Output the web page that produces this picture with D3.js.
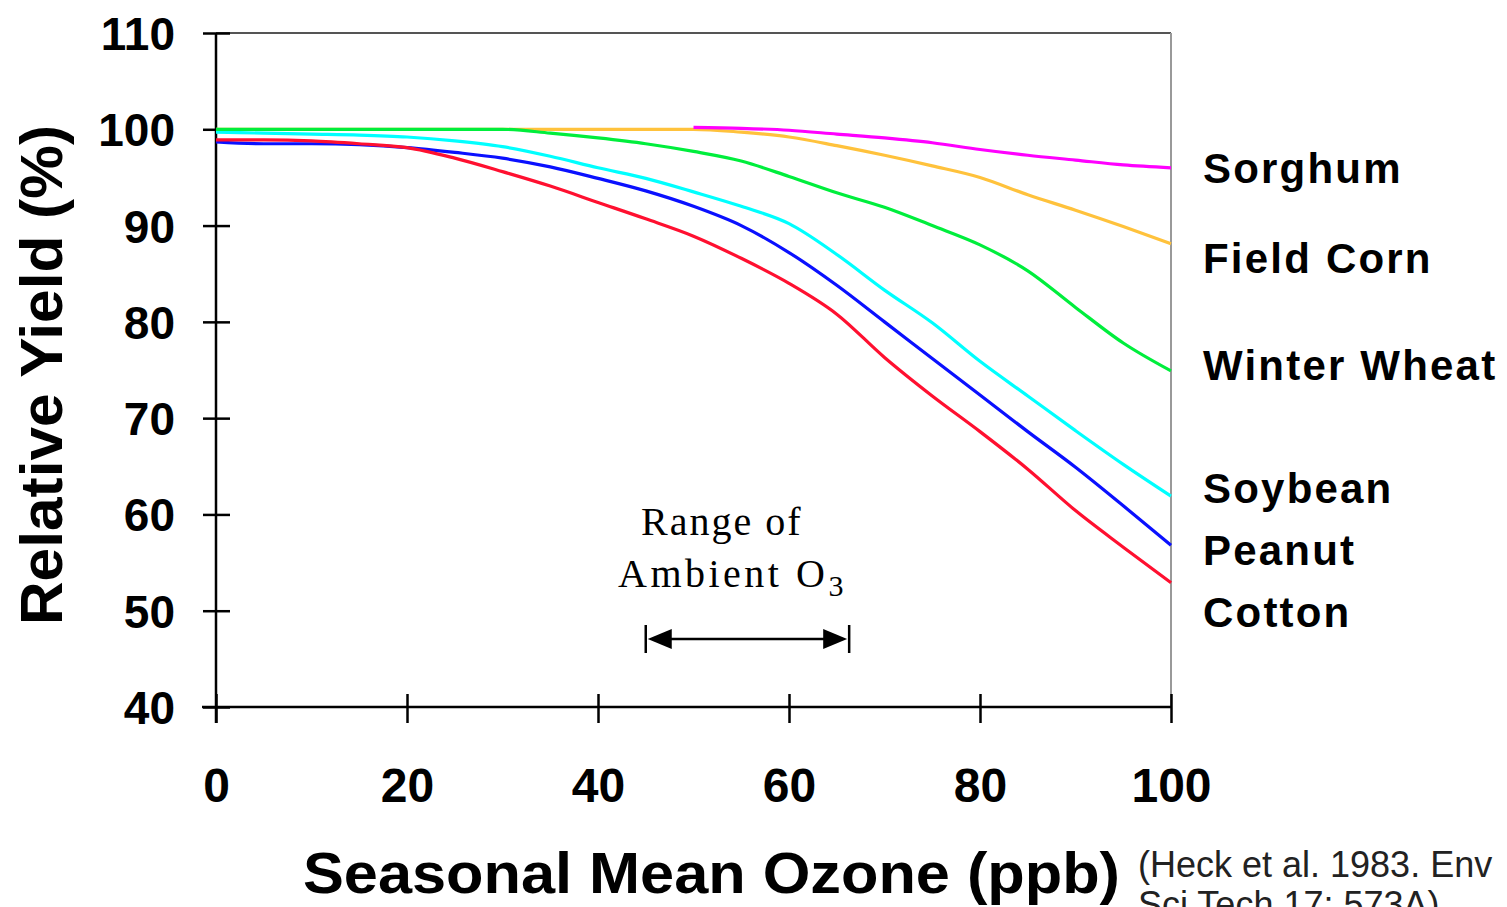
<!DOCTYPE html>
<html>
<head>
<meta charset="utf-8">
<script src="https://cdn.jsdelivr.net/npm/d3@7"></script>
<style>
  body { margin: 0; background: #fff; }
  svg { display: block; }
</style>
</head>
<body>
<div id="chart"></div>
<script>
// seasonal mean ozone (ppb)
const ozone = [0, 5, 10, 15, 20, 25, 30, 35, 40, 45, 50, 55, 60, 65, 70, 75, 80, 85, 90, 95, 100];

// relative yield (%) per crop
const sorghum = [null, null, null, null, null, null, null, null, null, null, 100.2, 100.1, 99.9, 99.5, 99.1, 98.6, 97.9, 97.3, 96.8, 96.3, 96.0];
const fieldCorn = [100, 100, 100, 100, 100, 100, 100, 100, 100, 100, 100, 99.7, 99.2, 98.3, 97.3, 96.2, 95.0, 93.2, 91.6, 89.9, 88.1];
const winterWheat = [100, 100, 100, 100, 100, 100, 100, 99.6, 99.1, 98.5, 97.7, 96.7, 95.1, 93.4, 91.9, 90.0, 88.0, 85.3, 81.5, 77.8, 74.9];
const soybean = [99.7, 99.6, 99.5, 99.4, 99.2, 98.8, 98.2, 97.2, 96.0, 94.9, 93.5, 92.0, 90.2, 87.0, 83.3, 79.9, 75.9, 72.3, 68.7, 65.2, 61.9];
const peanut = [98.7, 98.5, 98.5, 98.4, 98.1, 97.6, 97.0, 96.1, 94.9, 93.6, 92.0, 90.0, 87.2, 83.8, 80.0, 76.2, 72.4, 68.6, 64.9, 60.9, 56.8];
const cotton = [98.9, 98.9, 98.8, 98.5, 98.1, 97.0, 95.6, 94.1, 92.4, 90.7, 88.9, 86.6, 84.0, 80.8, 76.3, 72.3, 68.6, 64.7, 60.4, 56.6, 52.9];

const xTicks = [0, 20, 40, 60, 80, 100];
const yTicks = [40, 50, 60, 70, 80, 90, 100, 110];
const ambientRange = [45, 66.3];

// drawing order: later ones sit on top
const series = [
  { name: "Field Corn", values: fieldCorn, color: "#ffc23c", labelY: 273 },
  { name: "Sorghum", values: sorghum, color: "#ff00ff", labelY: 183 },
  { name: "Peanut", values: peanut, color: "#0a10ff", labelY: 565 },
  { name: "Cotton", values: cotton, color: "#ff1030", labelY: 627 },
  { name: "Soybean", values: soybean, color: "#00ffff", labelY: 503 },
  { name: "Winter Wheat", values: winterWheat, color: "#00ee3c", labelY: 380 }
];

const width = 1507;
const height = 907;

const svg = d3.select("#chart").append("svg")
  .attr("width", width)
  .attr("height", height)
  .attr("viewBox", `0 0 ${width} ${height}`);

const x = d3.scaleLinear().domain([0, 100]).range([216, 1171]);
const y = d3.scaleLinear().domain([40, 110]).range([707, 33]);

const sans = "'Liberation Sans', Arial, sans-serif";

// frame (top and right, gray)
svg.append("line")
  .attr("x1", x(0)).attr("x2", x(100))
  .attr("y1", y(110)).attr("y2", y(110))
  .attr("stroke", "#555").attr("stroke-width", 2);
svg.append("line")
  .attr("x1", x(100)).attr("x2", x(100))
  .attr("y1", y(110)).attr("y2", y(40))
  .attr("stroke", "#999").attr("stroke-width", 2);

// y axis
const yAxis = svg.append("g")
  .attr("transform", `translate(${x(0)},0)`)
  .call(d3.axisLeft(y).tickValues(yTicks).tickSizeOuter(0).tickSize(13).tickPadding(28));
yAxis.select(".domain").attr("d", `M0,${y(110)}V${y(40) + 16}`)
  .attr("stroke", "#000").attr("stroke-width", 2.5);
yAxis.selectAll(".tick line").attr("x1", 14).attr("x2", -13)
  .attr("stroke", "#000").attr("stroke-width", 2.5);
yAxis.selectAll(".tick text")
  .attr("font-family", sans).attr("font-weight", "bold")
  .attr("font-size", 46).attr("fill", "#000").attr("dy", "0.36em");

// x axis
const xAxis = svg.append("g")
  .attr("transform", `translate(0,${y(40)})`)
  .call(d3.axisBottom(x).tickValues(xTicks).tickSizeOuter(0).tickSize(16));
xAxis.select(".domain").attr("d", `M${x(0) - 14},0H${x(100)}`)
  .attr("stroke", "#000").attr("stroke-width", 2.5);
xAxis.selectAll(".tick line").attr("y1", -13).attr("y2", 16)
  .attr("stroke", "#000").attr("stroke-width", 2.5);
xAxis.selectAll(".tick text")
  .attr("font-family", sans).attr("font-weight", "bold")
  .attr("font-size", 48).attr("fill", "#000")
  .attr("y", 95).attr("dy", 0);

// curves
const line = d3.line()
  .defined(d => d[1] != null)
  .x(d => x(d[0]))
  .y(d => y(d[1]))
  .curve(d3.curveMonotoneX);

svg.append("g")
  .selectAll("path")
  .data(series)
  .enter()
  .append("path")
  .attr("d", s => line(ozone.map((o, i) => [o, s.values[i]])))
  .attr("fill", "none")
  .attr("stroke", s => s.color)
  .attr("stroke-width", 3.2)
  .attr("stroke-linejoin", "round");

// crop labels on the right
svg.append("g")
  .selectAll("text")
  .data(series)
  .enter()
  .append("text")
  .attr("x", 1203)
  .attr("y", s => s.labelY)
  .attr("font-family", sans)
  .attr("font-weight", "bold")
  .attr("font-size", 42)
  .attr("letter-spacing", 2.2)
  .attr("fill", "#000")
  .text(s => s.name);

// axis titles
svg.append("text")
  .attr("transform", "translate(62,375) rotate(-90)")
  .attr("text-anchor", "middle")
  .attr("font-family", sans)
  .attr("font-weight", "bold")
  .attr("font-size", 60)
  .attr("textLength", 500)
  .attr("lengthAdjust", "spacingAndGlyphs")
  .text("Relative Yield (%)");

svg.append("text")
  .attr("x", 303)
  .attr("y", 893)
  .attr("font-family", sans)
  .attr("font-weight", "bold")
  .attr("font-size", 58)
  .attr("textLength", 817)
  .attr("lengthAdjust", "spacingAndGlyphs")
  .text("Seasonal Mean Ozone (ppb)");

// citation (runs off the right edge in the original)
const cite = svg.append("text")
  .attr("font-family", sans)
  .attr("font-size", 36)
  .attr("fill", "#222");
cite.append("tspan").attr("x", 1138).attr("y", 877).text("(Heck et al. 1983. Env");
cite.append("tspan").attr("x", 1138).attr("y", 917).text("Sci Tech 17: 573A)");

// ambient ozone range annotation
const serif = "'Liberation Serif', 'Times New Roman', serif";
const ann = svg.append("g");
ann.append("text")
  .attr("x", 641).attr("y", 535)
  .attr("font-family", serif).attr("font-size", 40)
  .attr("letter-spacing", 2)
  .text("Range of");
const amb = ann.append("text")
  .attr("x", 618).attr("y", 587)
  .attr("font-family", serif).attr("font-size", 40);
amb.append("tspan").attr("letter-spacing", 3.5).text("Ambient O");
amb.append("tspan").attr("font-size", 30).attr("dy", 9).text("3");

const ay = 639;
const x0 = x(ambientRange[0]);
const x1 = x(ambientRange[1]);
ann.append("line")
  .attr("x1", x0 + 10).attr("x2", x1 - 10)
  .attr("y1", ay).attr("y2", ay)
  .attr("stroke", "#000").attr("stroke-width", 2.5);
[x0, x1].forEach(function (xe) {
  ann.append("line")
    .attr("x1", xe).attr("x2", xe)
    .attr("y1", ay - 14).attr("y2", ay + 14)
    .attr("stroke", "#000").attr("stroke-width", 2.5);
});
ann.append("path")
  .attr("d", `M${x0 + 2},${ay}L${x0 + 26},${ay - 10}L${x0 + 26},${ay + 10}Z`)
  .attr("fill", "#000");
ann.append("path")
  .attr("d", `M${x1 - 2},${ay}L${x1 - 26},${ay - 10}L${x1 - 26},${ay + 10}Z`)
  .attr("fill", "#000");
</script>
</body>
</html>
